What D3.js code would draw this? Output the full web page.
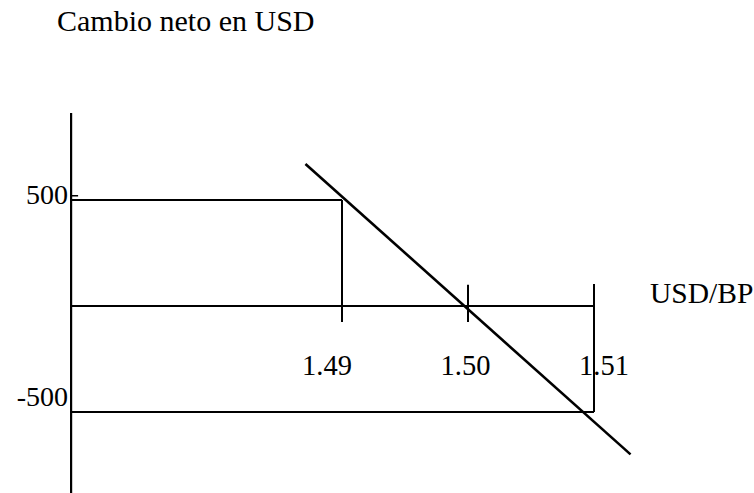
<!DOCTYPE html>
<html>
<head>
<meta charset="utf-8">
<script src="https://cdn.jsdelivr.net/npm/d3@7"></script>
<style>
  html, body { margin: 0; padding: 0; background: #fff; }
  svg { display: block; }
  text { font-family: "Liberation Serif", "Times New Roman", serif; fill: #000; }
</style>
</head>
<body>
<svg id="chart" width="754" height="493"></svg>
<script>
// Net change in USD versus the USD/BP exchange rate
const title = "Cambio neto en USD";
const xAxisTitle = "USD/BP";

const xTicks = [1.49, 1.50, 1.51];
const xTickLabels = ["1.49", "1.50", "1.51"];
const yTicks = [500, -500];
const yTickLabels = ["500", "-500"];

// Net-change line (rate, USD)
const payoffRate = [1.4871, 1.5129];
const payoffUsd = [670, -700];

// Reference lines at the payoff levels, drawn from the vertical axis
const levelValues = [500, 0, -500];
const levelEnds = [1.49, 1.51, 1.51];

// Drop lines at each rate: top and bottom in USD
const dropTop = [500, 100, 104];
const dropBottom = [-75, -75, -500];

// Vertical axis position and extent
const axisRate = 1.4685;
const axisTop = 910, axisBottom = -882;

const svg = d3.select("#chart");
const x = d3.scaleLinear().domain([1.49, 1.51]).range([342, 594]);
const y = d3.scaleLinear().domain([500, -500]).range([200, 412]);
// rate labels are spaced a little wider than the drop lines
const xLabel = d3.scaleLinear().domain([1.49, 1.51]).range([327, 604]);

const ink = "#000";

// vertical axis
svg.append("line")
  .attr("x1", x(axisRate)).attr("x2", x(axisRate))
  .attr("y1", y(axisTop)).attr("y2", y(axisBottom))
  .attr("stroke", ink).attr("stroke-width", 2.2);

// small tick beside the 500 label
svg.append("line")
  .attr("x1", x(axisRate)).attr("x2", x(axisRate) + 7)
  .attr("y1", y(520)).attr("y2", y(520))
  .attr("stroke", ink).attr("stroke-width", 1.5);

// level lines
svg.selectAll("line.level").data(levelValues).join("line")
  .attr("class", "level")
  .attr("x1", x(axisRate)).attr("x2", (d, i) => x(levelEnds[i]))
  .attr("y1", d => y(d)).attr("y2", d => y(d))
  .attr("stroke", ink).attr("stroke-width", 2);

// drop lines / ticks at each rate
svg.selectAll("line.drop").data(xTicks).join("line")
  .attr("class", "drop")
  .attr("x1", d => x(d)).attr("x2", d => x(d))
  .attr("y1", (d, i) => y(dropTop[i])).attr("y2", (d, i) => y(dropBottom[i]))
  .attr("stroke", ink).attr("stroke-width", 2);

// net-change line
const pts = payoffRate.map((r, i) => [r, payoffUsd[i]]);
svg.append("path")
  .attr("d", d3.line().x(d => x(d[0])).y(d => y(d[1]))(pts))
  .attr("fill", "none").attr("stroke", ink).attr("stroke-width", 2.6);

// y labels
svg.selectAll("text.ylab").data(yTicks).join("text")
  .attr("class", "ylab")
  .attr("x", x(axisRate) - 3)
  .attr("y", d => d > 0 ? y(d) + 4 : y(d) - 6)
  .attr("text-anchor", "end")
  .attr("font-size", 28)
  .text((d, i) => yTickLabels[i]);

// x labels
svg.selectAll("text.xlab").data(xTicks).join("text")
  .attr("class", "xlab")
  .attr("x", d => xLabel(d))
  .attr("y", y(0) + 69)
  .attr("text-anchor", "middle")
  .attr("font-size", 28.5)
  .text((d, i) => xTickLabels[i]);

// axis titles
svg.append("text")
  .attr("x", x(1.51) + 56).attr("y", y(0) - 3)
  .attr("font-size", 29.5)
  .text(xAxisTitle);

svg.append("text")
  .attr("x", 57).attr("y", 31)
  .attr("font-size", 30)
  .text(title);
</script>
</body>
</html>
